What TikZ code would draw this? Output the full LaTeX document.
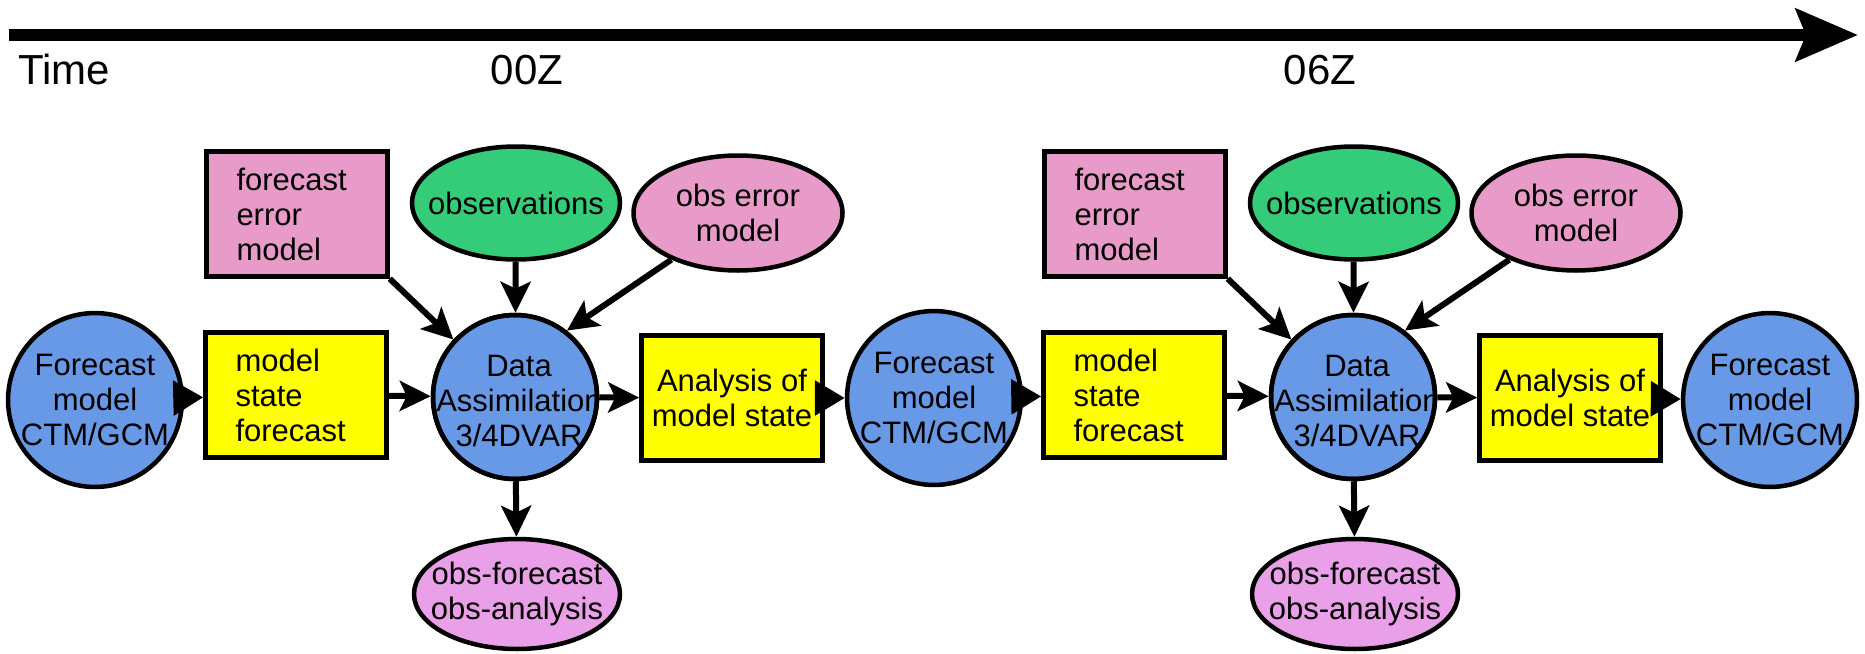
\documentclass[tikz,border=0pt]{standalone}
\usepackage{fontspec}
\setmainfont{Liberation Sans}
\usetikzlibrary{arrows.meta,shapes.geometric}
\definecolor{fcblue}{RGB}{104,153,230}
\definecolor{boxpink}{RGB}{232,155,200}
\definecolor{obsgreen}{RGB}{52,204,120}
\definecolor{statey}{RGB}{255,255,0}
\definecolor{diagpink}{RGB}{234,160,232}
\begin{document}
\begin{tikzpicture}[x=1pt,y=-1pt,
  every node/.style={font=\fontsize{31pt}{35pt}\selectfont, inner sep=0pt},
  axislabel/.style={font=\fontsize{42pt}{48pt}\selectfont, anchor=base},
  outline/.style={draw=black, line width=4.5pt},
  modelcirc/.style={outline, circle, fill=fcblue, minimum size=164pt, align=center},
  statebox/.style={outline, rectangle, fill=statey, minimum width=181pt, minimum height=125pt},
  insetleft/.style={inner xsep=30pt, text width=121pt, align=left},
  errbox/.style={outline, rectangle, fill=boxpink, minimum width=181pt, minimum height=125pt, insetleft},
  blob/.style={outline, ellipse, minimum width=208pt, minimum height=113pt},
  flowarrow/.style={line width=6pt, -{Stealth[length=31pt,width=30pt,inset=7pt]}},
  pusharrow/.style={line width=6pt, -{Triangle[length=30pt,width=34pt]}},
]
\useasboundingbox (0,0) rectangle (1865,653);

% time axis
\coordinate (t0) at (9,35);
\coordinate (t1) at (1858,35);
\draw[line width=12pt, -{Stealth[length=62pt,width=52pt,inset=10pt]}] (t0) -- (t1);
\node[axislabel, anchor=base west] (lbltime) at (18,84) {Time};
\node[axislabel] (lbl00) at (527,84) {00Z};
\node[axislabel] (lbl06) at (1320,84) {06Z};

% one assimilation cycle, drawn twice
\foreach \dx/\k in {0/1, 838/2} {
  \node[errbox] (fem\k) at (297+\dx,214) {forecast\\error\\model};
  \node[blob, fill=obsgreen, label={center:observations}] (obs\k) at (516+\dx,203) {};
  \node[blob, fill=boxpink, minimum width=209pt, minimum height=115pt,
        label={[align=center]center:obs error\\model}] (oem\k) at (738+\dx,213) {};
  \node[statebox, insetleft] (msf\k) at (296+\dx,395) {model\\state\\forecast};
  \node[modelcirc] (da\k) at (515+\dx,397) {};
  \begin{scope}
    \clip (515+\dx,397) circle[radius=82pt];
    \node[align=center] (datext\k) at (519+\dx,401) {Data\\Assimilation\\3/4DVAR};
  \end{scope}
  \draw[line width=4.5pt] (da\k.center) circle[radius=82pt];
  \node[statebox, align=center] (ams\k) at (732+\dx,398) {Analysis of\\model state};
  \node[blob, fill=diagpink, minimum width=206pt, minimum height=110pt,
        label={[align=center]center:obs-forecast\\obs-analysis}] (ofa\k) at (517+\dx,594) {};
}

% forecast model runs
\node[modelcirc] (fc1) at (95,400) {Forecast\\model\\CTM/GCM};
\node[modelcirc] (fc2) at (934,398) {Forecast\\model\\CTM/GCM};
\node[modelcirc] (fc3) at (1770,400) {Forecast\\model\\CTM/GCM};

% connectors
\foreach \k in {1,2} {
  \draw[flowarrow] (msf\k) -- (da\k);
  \draw[flowarrow] (da\k) -- (ams\k);
  \draw[flowarrow] (fem\k.south east) -- (da\k.137);
  \draw[flowarrow] (obs\k) -- (da\k);
  \draw[flowarrow] (oem\k.215) -- (da\k.52);
  \draw[flowarrow] (da\k) -- (ofa\k);
}
\draw[pusharrow] (fc1) -- (msf1);
\draw[pusharrow] (ams1) -- (fc2);
\draw[pusharrow] (fc2) -- (msf2);
\draw[pusharrow] (ams2) -- (fc3);
\end{tikzpicture}
\end{document}
